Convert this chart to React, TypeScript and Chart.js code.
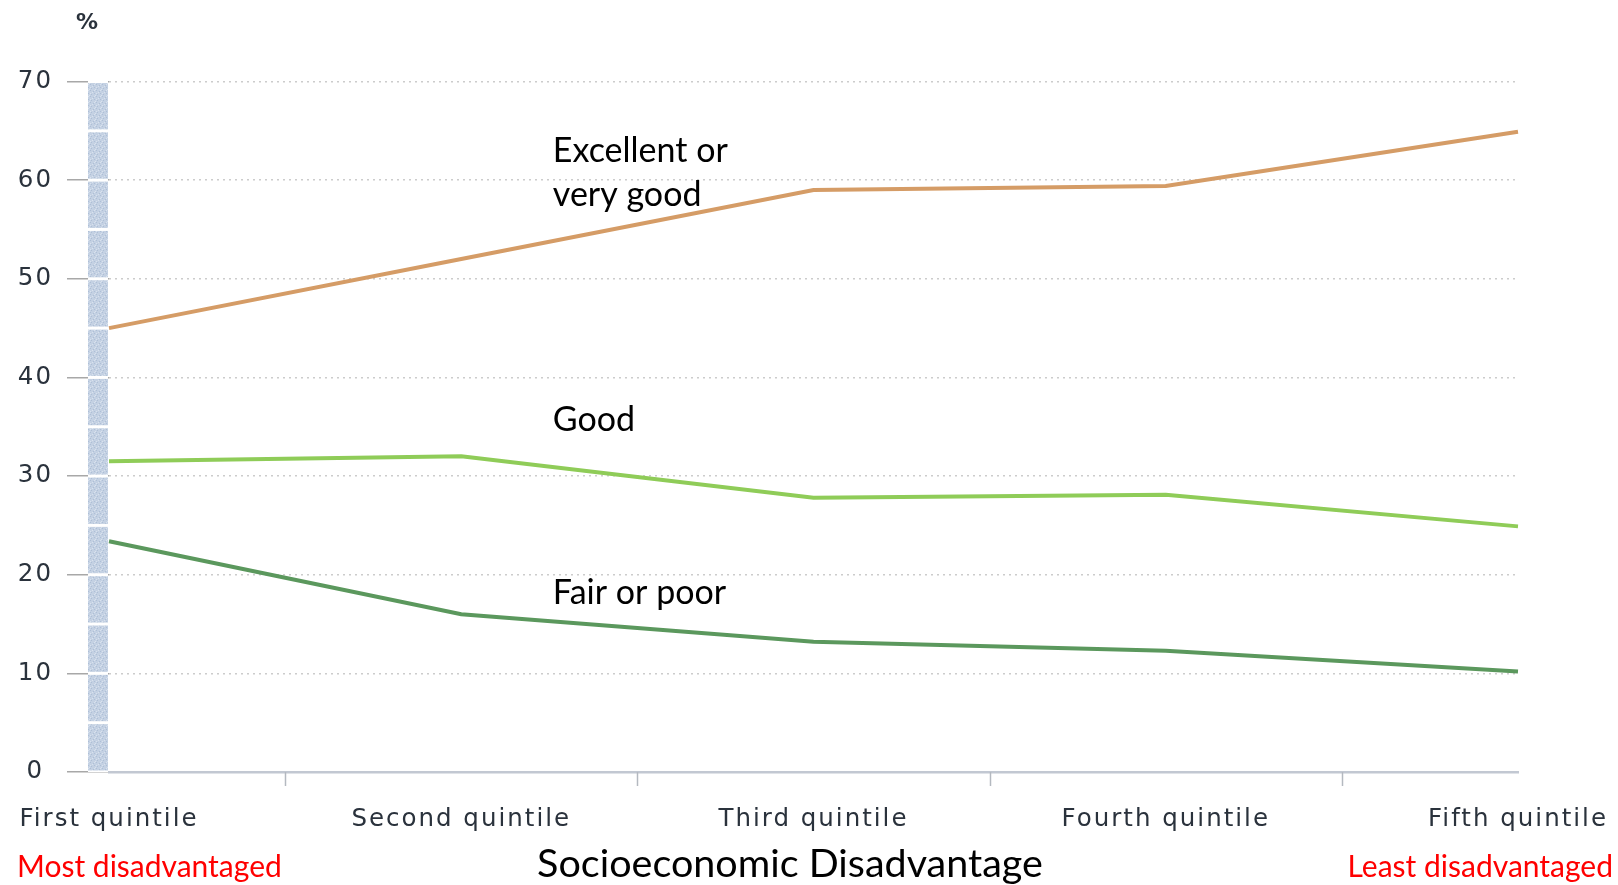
import { useEffect, useRef } from 'react';
import { Chart, registerables } from 'chart.js';

Chart.register(...registerables);

// Self-assessed health by socioeconomic quintile (%)
const QUINTILES = ['First quintile', 'Second quintile', 'Third quintile', 'Fourth quintile', 'Fifth quintile'];
const EXCELLENT_OR_VERY_GOOD = [45.0, 52.0, 59.0, 59.4, 64.9];
const GOOD = [31.5, 32.0, 27.8, 28.1, 24.9];
const FAIR_OR_POOR = [23.4, 16.0, 13.2, 12.3, 10.2];

const Y_MIN = 0;
const Y_MAX = 70;
const Y_STEP = 10;
const BAND_STEP = 5;

const SERIES_NAMES = [['Excellent or', 'very good'], ['Good'], ['Fair or poor']];
const UNIT = '%';
const AXIS_TITLE = 'Socioeconomic Disadvantage';
const LOW_END = 'Most disadvantaged';
const HIGH_END = 'Least disadvantaged';

const COLORS = ['#d59c66', '#8fcc58', '#5b985d'];

const TICK_FONT = 'DejaVu Sans';
const NOTE_FONT = 'Lato';

function makeStipple(): CanvasPattern | string {
  const c = document.createElement('canvas');
  c.width = 6;
  c.height = 6;
  const g = c.getContext('2d');
  if (!g) return '#c6d3e4';
  g.fillStyle = '#c4d1e3';
  g.fillRect(0, 0, 6, 6);
  g.fillStyle = '#aebfd6';
  g.fillRect(0, 0, 1, 1);
  g.fillRect(3, 1, 1, 1);
  g.fillRect(1, 4, 1, 1);
  g.fillRect(4, 3, 1, 1);
  g.fillStyle = '#d9e2ee';
  g.fillRect(2, 2, 1, 1);
  g.fillRect(5, 5, 1, 1);
  g.fillRect(4, 0, 1, 1);
  g.fillRect(0, 3, 1, 1);
  const p = g.createPattern(c, 'repeat');
  return p || '#c6d3e4';
}

const decorPlugin = {
  id: 'decor',
  beforeDraw(chart: any) {
    chart.ctx.letterSpacing = '2px';
  },
  afterDraw(chart: any) {
    const ctx: CanvasRenderingContext2D = chart.ctx;
    const x = chart.scales.x;
    const y = chart.scales.y;
    const area = chart.chartArea;
    ctx.save();
    (ctx as any).letterSpacing = '0px';

    // stippled band beside the value axis, split every BAND_STEP units
    const bandLeft = area.left - 21;
    const bandWidth = 20;
    ctx.fillStyle = '#ffffff';
    ctx.fillRect(bandLeft, y.getPixelForValue(Y_MAX) - 2, bandWidth, y.getPixelForValue(Y_MIN) - y.getPixelForValue(Y_MAX) + 2);
    ctx.fillStyle = makeStipple();
    for (let v = Y_MIN; v < Y_MAX; v += BAND_STEP) {
      const top = y.getPixelForValue(v + BAND_STEP) + 1.5;
      const bottom = y.getPixelForValue(v) - 1.5;
      ctx.fillRect(bandLeft, top, bandWidth, bottom - top);
    }

    // tick marks between categories
    ctx.strokeStyle = '#b4b9c0';
    ctx.lineWidth = 1.5;
    for (let i = 0; i < QUINTILES.length - 1; i++) {
      const px = Math.round(x.getPixelForValue(i + 0.5)) + 0.5;
      ctx.beginPath();
      ctx.moveTo(px, area.bottom);
      ctx.lineTo(px, area.bottom + 14);
      ctx.stroke();
    }

    // unit label
    ctx.fillStyle = '#2a323c';
    ctx.font = `bold 22px "${TICK_FONT}"`;
    ctx.textAlign = 'center';
    ctx.textBaseline = 'middle';
    ctx.fillText(UNIT, area.left - 22, area.top - 58);

    // series names
    ctx.fillStyle = '#000000';
    ctx.font = `34px "${NOTE_FONT}"`;
    ctx.textAlign = 'left';
    ctx.textBaseline = 'alphabetic';
    const anchors = [61.8, 34.6, 17.0];
    SERIES_NAMES.forEach((lines, i) => {
      const lx = x.getPixelForValue(1.26);
      const ly = y.getPixelForValue(anchors[i]);
      lines.forEach((t, j) => ctx.fillText(t, lx, ly + j * 44));
    });

    // bottom captions
    const base = chart.height - 8;
    ctx.fillStyle = '#ff0000';
    ctx.font = `30px "${NOTE_FONT}"`;
    ctx.textAlign = 'left';
    ctx.fillText(LOW_END, 17, base);
    ctx.textAlign = 'right';
    ctx.fillText(HIGH_END, chart.width - 5, base);
    ctx.fillStyle = '#000000';
    ctx.font = `39.5px "${NOTE_FONT}"`;
    ctx.textAlign = 'center';
    ctx.fillText(AXIS_TITLE, 790, base);

    ctx.restore();
  },
};

export default function App() {
  const ref = useRef<HTMLCanvasElement | null>(null);

  useEffect(() => {
    const canvas = ref.current;
    if (!canvas) return;
    const tickFont = { family: TICK_FONT, size: 24.5 };
    const chart = new Chart(canvas, {
      type: 'line',
      data: {
        labels: QUINTILES,
        datasets: [
          { label: 'Excellent or very good', data: EXCELLENT_OR_VERY_GOOD, borderColor: COLORS[0] },
          { label: 'Good', data: GOOD, borderColor: COLORS[1] },
          { label: 'Fair or poor', data: FAIR_OR_POOR, borderColor: COLORS[2] },
        ].map((d) => ({ ...d, borderWidth: 4, pointRadius: 0, tension: 0, fill: false })),
      },
      options: {
        responsive: false,
        animation: false,
        devicePixelRatio: 1,
        layout: { padding: { top: 81.5, right: 100, bottom: 0, left: 0 } },
        plugins: {
          legend: { display: false },
          tooltip: { enabled: false },
          title: { display: false },
        },
        scales: {
          x: {
            type: 'category',
            offset: false,
            grid: { display: false, drawTicks: false },
            border: { display: true, color: '#c2c8d2', width: 2.5 },
            ticks: {
              autoSkip: false,
              maxRotation: 0,
              padding: 33,
              color: '#2a323c',
              font: tickFont,
            },
            afterFit: (s: any) => {
              s.height = 113;
              s.paddingLeft = 0;
              s.paddingRight = 0;
            },
          },
          y: {
            min: Y_MIN,
            max: Y_MAX,
            ticks: {
              stepSize: Y_STEP,
              padding: 16,
              crossAlign: 'center',
              color: '#2a323c',
              font: tickFont,
            },
            grid: {
              color: '#cccccc',
              lineWidth: 1.5,
              drawTicks: true,
              tickLength: 42,
              tickColor: '#a8a8a8',
              tickWidth: 1.5,
            },
            border: { display: false, dash: [2, 4] },
            afterFit: (s: any) => {
              s.width = 109;
              s.paddingTop = 0;
              s.paddingBottom = 0;
            },
          },
        },
      } as any,
      plugins: [decorPlugin],
    });
    return () => chart.destroy();
  }, []);

  return (
    <div style={{ position: 'absolute', left: 0, top: 0, width: 1618, height: 885, background: '#ffffff' }}>
      <canvas ref={ref} width={1618} height={885} style={{ display: 'block' }} />
    </div>
  );
}
